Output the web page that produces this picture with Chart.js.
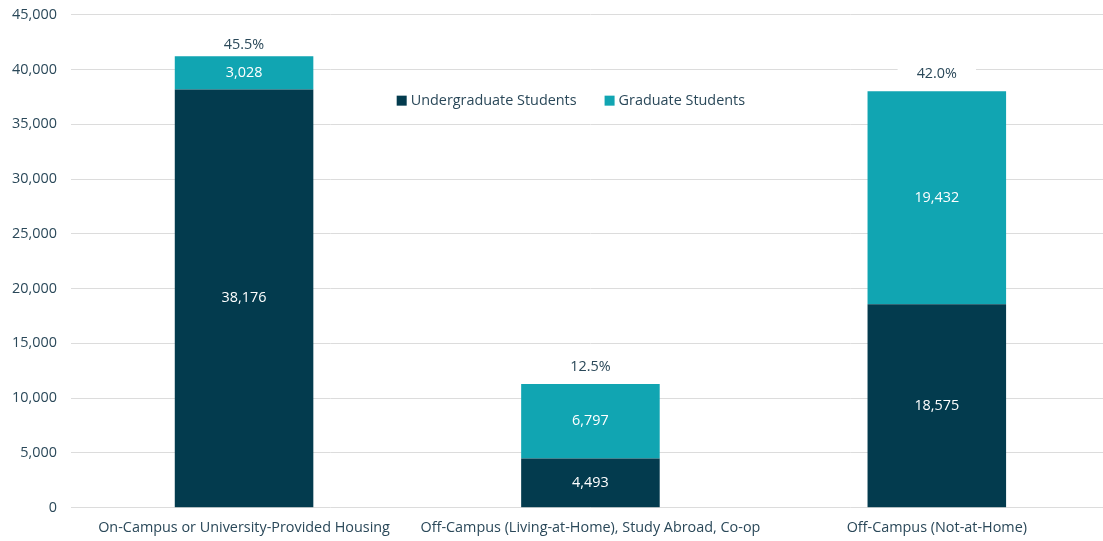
<!DOCTYPE html>
<html>
<head>
<meta charset="utf-8">
<script src="https://cdn.jsdelivr.net/npm/chart.js@4.4.1/dist/chart.umd.min.js"></script>
<style>
  html, body { margin: 0; padding: 0; background: #fff; overflow: hidden; }
  #wrap { width: 1113px; height: 549px; position: relative; margin-top: -8px; margin-left: -2px; }
</style>
</head>
<body>
<div id="wrap"><canvas id="grafico"></canvas></div>
<script>
// datos del grafico
var categorias = ['On-Campus or University-Provided Housing', 'Off-Campus (Living-at-Home), Study Abroad, Co-op', 'Off-Campus (Not-at-Home)'];
var pregrado = [38176, 4493, 18575];
var posgrado = [3028, 6797, 19432];
var porcentajes = ['45.5%', '12.5%', '42.0%'];
var nombresSeries = ['Undergraduate Students', 'Graduate Students'];

var colorOscuro = '#033b4e';
var colorTeal = '#11a5b2';
var colorTexto = '#2a4859';
var fuente = "'Open Sans', sans-serif";
var tamFuente = 14.4;

// Plugin para las etiquetas dentro de las barras, los totales y la leyenda
var etiquetasPlugin = {
  id: 'etiquetas',
  afterDatasetsDraw: function(chart) {
    var ctx = chart.ctx;
    ctx.save();
    ctx.font = tamFuente + 'px ' + fuente;
    ctx.textAlign = 'center';
    ctx.textBaseline = 'middle';

    // valores dentro de cada segmento
    chart.data.datasets.forEach(function(ds, i) {
      var meta = chart.getDatasetMeta(i);
      meta.data.forEach(function(bar, j) {
        var yMedio = (bar.y + bar.base) / 2;
        ctx.fillStyle = '#ffffff';
        ctx.fillText(ds.data[j].toLocaleString('en-US'), bar.x, yMedio);
      });
    });

    // porcentajes arriba de las barras (con fondo blanco)
    var metaTop = chart.getDatasetMeta(1);
    metaTop.data.forEach(function(bar, j) {
      var y = Math.max(bar.y - 17, chart.chartArea.top + 30);
      var w = ctx.measureText(porcentajes[j]).width;
      ctx.fillStyle = '#ffffff';
      ctx.fillRect(bar.x - w / 2 - 19, y - 10, w + 38, 20);
      ctx.fillStyle = colorTexto;
      ctx.fillText(porcentajes[j], bar.x, y);
    });

    // leyenda en el centro del area
    var colores = [colorOscuro, colorTeal];
    var anchos = nombresSeries.map(function(n) { return ctx.measureText(n).width; });
    var total = 14 + anchos[0] + 28 + 14 + anchos[1];
    var x = chart.chartArea.left + 500 - total / 2;
    var yLey = chart.scales.y.getPixelForValue(37150);
    ctx.textAlign = 'left';
    for (var k = 0; k < nombresSeries.length; k++) {
      ctx.fillStyle = colores[k];
      ctx.fillRect(x, yLey - 5, 10, 10);
      ctx.fillStyle = colorTexto;
      ctx.fillText(nombresSeries[k], x + 14, yLey);
      x += 14 + anchos[k] + 28;
    }
    ctx.restore();
  }
};

var ctxGrafico = document.getElementById('grafico').getContext('2d');
var grafico = new Chart(ctxGrafico, {
  type: 'bar',
  data: {
    labels: categorias,
    datasets: [{
      label: nombresSeries[0],
      data: pregrado,
      backgroundColor: colorOscuro,
      categoryPercentage: 0.8,
      barPercentage: 0.5
    }, {
      label: nombresSeries[1],
      data: posgrado,
      backgroundColor: colorTeal,
      categoryPercentage: 0.8,
      barPercentage: 0.5
    }]
  },
  options: {
    responsive: true,
    maintainAspectRatio: false,
    animation: false,
    layout: { padding: { left: 0, top: 6, right: 1, bottom: 0 } },
    plugins: {
      legend: { display: false },
      tooltip: { enabled: false }
    },
    scales: {
      x: {
        stacked: true,
        grid: { display: false },
        border: { display: false },
        ticks: { color: colorTexto, font: { family: fuente, size: tamFuente }, padding: 4, maxRotation: 0 }
      },
      y: {
        stacked: true,
        min: 0,
        max: 45000,
        border: { display: false },
        grid: { color: '#dcdcdc', lineWidth: 1, drawTicks: false },
        ticks: {
          stepSize: 5000,
          color: colorTexto,
          padding: 14,
          font: { family: fuente, size: tamFuente },
          callback: function(v) { return v.toLocaleString('en-US'); }
        }
      }
    }
  },
  plugins: [etiquetasPlugin]
});
</script>
</body>
</html>
